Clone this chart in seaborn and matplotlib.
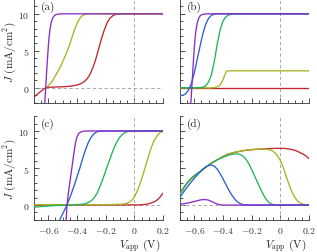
import matplotlib
matplotlib.use("Agg")
import matplotlib.pyplot as plt
import seaborn as sns
from matplotlib.ticker import MultipleLocator

# colores de las curvas
c_red = "#c0272d"
c_yg = "#a8b41e"
c_green = "#20b45a"
c_blue = "#2a5fce"
c_purple = "#8a2cc6"

# ----- panel (a) -----
a_red_v = [-0.70, -0.68, -0.66, -0.64, -0.62, -0.60, -0.55, -0.50, -0.45, -0.40, -0.37, -0.35, -0.33,
           -0.31, -0.29, -0.27, -0.25, -0.23, -0.21, -0.19, -0.17, -0.15, -0.13, -0.11, 0.20]
a_red_j = [-1.25, -0.92, -0.6, -0.28, 0.0, 0.08, 0.12, 0.15, 0.22, 0.38, 0.6, 0.85, 1.2,
           1.8, 2.7, 3.8, 5.2, 6.6, 7.8, 8.8, 9.4, 9.75, 9.92, 9.98, 10.0]
a_yg_v = [-0.62, -0.60, -0.58, -0.56, -0.54, -0.52, -0.50, -0.48, -0.46, -0.44, -0.42, -0.40, -0.38,
          -0.36, -0.34, -0.32, 0.20]
a_yg_j = [0.0, 0.3, 0.7, 1.3, 2.0, 2.7, 3.5, 4.4, 5.4, 6.5, 7.7, 8.7, 9.4, 9.8, 9.95, 10.0, 10.0]
a_purple_v = [-0.63, -0.625, -0.62, -0.615, -0.61, -0.605, -0.60, -0.595, -0.59, -0.58, -0.57, -0.56,
              -0.55, -0.54, -0.52, -0.50, 0.20]
a_purple_j = [-4.0, -2.2, -0.6, 1.0, 2.6, 4.1, 5.5, 6.7, 7.6, 8.8, 9.4, 9.7, 9.85, 9.93, 9.98, 10.0, 10.0]

# ----- panel (b) -----
b_red_v = [-0.70, 0.20]
b_red_j = [0.0, 0.0]
b_yg_v = [-0.70, -0.48, -0.46, -0.44, -0.43, -0.42, -0.41, -0.40, -0.39, -0.38, -0.375, -0.37, 0.20]
b_yg_j = [0.0, 0.0, 0.05, 0.15, 0.25, 0.4, 0.7, 1.1, 1.6, 2.05, 2.25, 2.3, 2.3]
b_green_v = [-0.70, -0.56, -0.54, -0.52, -0.50, -0.48, -0.46, -0.44, -0.42, -0.40, -0.38, -0.36,
             -0.34, -0.32, 0.20]
b_green_j = [0.0, 0.02, 0.1, 0.3, 0.8, 1.8, 3.6, 5.9, 7.8, 9.0, 9.6, 9.85, 9.95, 10.0, 10.0]
b_blue_v = [-0.70, -0.68, -0.66, -0.64, -0.62, -0.60, -0.58, -0.56, -0.54, -0.52, -0.50, -0.48,
            -0.46, -0.44, 0.20]
b_blue_j = [-1.05, -1.0, -0.8, -0.3, 0.6, 2.0, 3.8, 5.6, 7.3, 8.6, 9.4, 9.8, 9.95, 10.0, 10.0]
b_purple_v = [-0.63, -0.625, -0.62, -0.615, -0.61, -0.605, -0.60, -0.595, -0.59, -0.58, -0.57, -0.56,
              -0.55, -0.54, -0.52, -0.50, 0.20]
b_purple_j = [-4.0, -2.4, -0.9, 0.7, 2.3, 3.9, 5.3, 6.5, 7.5, 8.7, 9.35, 9.7, 9.85, 9.93, 9.98, 10.0, 10.0]

# ----- panel (c) -----
c_red_v = [-0.70, 0.04, 0.08, 0.10, 0.12, 0.14, 0.16, 0.18, 0.20]
c_red_j = [0.0, 0.02, 0.1, 0.18, 0.3, 0.45, 0.7, 1.1, 1.65]
c_yg_v = [-0.70, -0.20, -0.10, -0.08, -0.06, -0.04, -0.02, 0.0, 0.02, 0.04, 0.06, 0.08, 0.10, 0.12,
          0.14, 0.16, 0.18, 0.20]
c_yg_j = [0.05, 0.06, 0.1, 0.12, 0.2, 0.35, 0.6, 1.1, 1.9, 2.9, 4.1, 5.4, 6.7, 7.9, 8.8, 9.4, 9.8, 9.95]
c_green_v = [-0.70, -0.65, -0.60, -0.55, -0.50, -0.45, -0.40, -0.36, -0.34, -0.32, -0.30, -0.28,
             -0.26, -0.24, -0.22, -0.20, -0.18, -0.16, -0.14, -0.12, -0.10, -0.08, -0.06, -0.04,
             -0.02, 0.20]
c_green_j = [-0.3, -0.2, -0.12, -0.06, -0.02, 0.0, 0.05, 0.12, 0.2, 0.35, 0.6, 1.0, 1.6, 2.5, 3.5,
             4.6, 5.7, 6.8, 7.8, 8.6, 9.2, 9.6, 9.85, 9.95, 10.0, 10.0]
c_blue_v = [-0.54, -0.52, -0.50, -0.48, -0.46, -0.44, -0.42, -0.40, -0.38, -0.36, -0.34, -0.32,
            -0.30, -0.28, -0.26, -0.24, -0.22, 0.20]
c_blue_j = [-2.8, -2.0, -1.2, -0.4, 0.5, 1.5, 2.6, 3.8, 5.0, 6.3, 7.5, 8.5, 9.2, 9.65, 9.9, 9.97,
            10.0, 10.0]
c_purple_v = [-0.48, -0.475, -0.47, -0.465, -0.46, -0.45, -0.44, -0.43, -0.42, -0.41, -0.40, -0.39,
              -0.38, -0.36, -0.34, 0.20]
c_purple_j = [-3.5, -1.8, -0.2, 0.8, 1.6, 3.0, 4.4, 5.8, 7.2, 8.4, 9.2, 9.6, 9.8, 9.95, 10.0, 10.0]

# ----- panel (d) -----
d_red_v = [-0.70, -0.68, -0.66, -0.64, -0.62, -0.60, -0.56, -0.52, -0.48, -0.44, -0.40, -0.36, -0.32,
           -0.28, -0.24, -0.20, -0.16, -0.12, -0.08, -0.04, 0.0, 0.04, 0.08, 0.10, 0.12, 0.14, 0.16,
           0.18, 0.20]
d_red_j = [1.5, 2.15, 2.7, 3.2, 3.6, 3.95, 4.5, 5.1, 5.65, 6.1, 6.55, 6.9, 7.1, 7.27, 7.4, 7.48, 7.54,
           7.58, 7.62, 7.65, 7.66, 7.63, 7.5, 7.4, 7.25, 7.05, 6.85, 6.6, 6.25]
d_yg_v = [-0.70, -0.68, -0.66, -0.64, -0.62, -0.60, -0.56, -0.52, -0.48, -0.44, -0.40, -0.36, -0.32,
          -0.28, -0.24, -0.20, -0.16, -0.12, -0.10, -0.08, -0.06, -0.04, -0.02, 0.0, 0.02, 0.04,
          0.06, 0.08, 0.10, 0.12, 0.14, 0.16, 0.18, 0.20]
d_yg_j = [1.5, 2.15, 2.7, 3.2, 3.6, 3.95, 4.5, 5.1, 5.65, 6.1, 6.55, 6.9, 7.1, 7.27, 7.4, 7.48, 7.54,
          7.57, 7.55, 7.5, 7.35, 7.1, 6.65, 6.0, 5.1, 3.9, 2.8, 1.8, 1.05, 0.55, 0.25, 0.1, 0.03, 0.0]
d_green_v = [-0.70, -0.68, -0.66, -0.64, -0.62, -0.60, -0.58, -0.56, -0.54, -0.52, -0.50, -0.48,
             -0.46, -0.44, -0.42, -0.40, -0.38, -0.36, -0.34, -0.32, -0.30, -0.28, -0.26, -0.24,
             -0.22, -0.20, -0.18, -0.16, -0.14, -0.12, -0.10, -0.08, -0.06, -0.04, -0.02, 0.20]
d_green_j = [1.5, 2.15, 2.7, 3.2, 3.6, 3.95, 4.25, 4.5, 4.8, 5.1, 5.4, 5.65, 5.9, 6.1, 6.3, 6.45, 6.6,
             6.75, 6.85, 6.9, 6.9, 6.82, 6.6, 6.2, 5.6, 4.8, 3.95, 3.1, 2.25, 1.45, 0.8, 0.35, 0.12,
             0.03, 0.0, 0.0]
d_blue_v = [-0.70, -0.68, -0.66, -0.64, -0.62, -0.60, -0.58, -0.56, -0.54, -0.52, -0.50, -0.48,
            -0.46, -0.44, -0.42, -0.40, -0.38, -0.36, -0.34, -0.32, -0.30, -0.28, -0.26, -0.24,
            -0.22, 0.20]
d_blue_j = [1.05, 1.6, 2.15, 2.65, 3.15, 3.6, 4.05, 4.45, 4.85, 5.15, 5.35, 5.4, 5.25, 4.85, 4.25,
            3.55, 2.8, 2.05, 1.4, 0.85, 0.45, 0.2, 0.07, 0.02, 0.0, 0.0]
d_purple_v = [-0.70, -0.66, -0.62, -0.58, -0.56, -0.54, -0.52, -0.50, -0.48, -0.46, -0.44, -0.42,
              -0.40, 0.20]
d_purple_j = [0.12, 0.22, 0.38, 0.58, 0.68, 0.74, 0.74, 0.66, 0.5, 0.3, 0.13, 0.04, 0.0, 0.0]

# etiquetas de ejes
x_ticks = [-0.6, -0.4, -0.2, 0.0, 0.2]
x_tick_labels = ["$-0.6$", "$-0.4$", "$-0.2$", "$0$", "$0.2$"]
y_ticks = [0, 5, 10]
y_tick_labels = ["$0$", "$5$", "$10$"]
panel_labels = ["(a)", "(b)", "(c)", "(d)"]

sns.set_style("ticks")
plt.rcParams["font.family"] = "serif"
plt.rcParams["font.serif"] = ["cmr10", "DejaVu Serif"]
plt.rcParams["mathtext.fontset"] = "cm"
plt.rcParams["axes.formatter.use_mathtext"] = True

paneles = [
    [(a_red_v, a_red_j, c_red), (a_yg_v, a_yg_j, c_yg), (a_purple_v, a_purple_j, c_purple)],
    [(b_red_v, b_red_j, c_red), (b_yg_v, b_yg_j, c_yg), (b_green_v, b_green_j, c_green),
     (b_blue_v, b_blue_j, c_blue), (b_purple_v, b_purple_j, c_purple)],
    [(c_red_v, c_red_j, c_red), (c_yg_v, c_yg_j, c_yg), (c_green_v, c_green_j, c_green),
     (c_blue_v, c_blue_j, c_blue), (c_purple_v, c_purple_j, c_purple)],
    [(d_red_v, d_red_j, c_red), (d_yg_v, d_yg_j, c_yg), (d_green_v, d_green_j, c_green),
     (d_blue_v, d_blue_j, c_blue), (d_purple_v, d_purple_j, c_purple)],
]

fig, axes = plt.subplots(2, 2, figsize=(3.17, 2.53), dpi=100, sharex=True, sharey=True)
fig.subplots_adjust(left=0.107, right=0.975, bottom=0.127, top=1.0, wspace=0.13, hspace=0.13)

for i, ax in enumerate(axes.flat):
    ax.axvline(0, color="#9a9a9a", ls=(0, (4, 3)), lw=0.6, zorder=1)
    ax.axhline(0, color="#9a9a9a", ls=(0, (4, 3)), lw=0.6, zorder=1)
    for v, j, col in paneles[i]:
        sns.lineplot(x=v, y=j, color=col, lw=0.95, ax=ax, errorbar=None, zorder=3)
    ax.set_xlim(-0.7, 0.2)
    ax.set_ylim(-2, 12)
    ax.set_xticks(x_ticks)
    ax.set_yticks(y_ticks)
    ax.xaxis.set_minor_locator(MultipleLocator(0.05))
    ax.yaxis.set_minor_locator(MultipleLocator(1))
    ax.tick_params(which="both", direction="in", labelsize=7, colors="#333333", width=0.6)
    ax.tick_params(which="major", length=3.5)
    ax.tick_params(which="minor", length=2)
    for s in ["left", "bottom"]:
        ax.spines[s].set_linewidth(0.6)
        ax.spines[s].set_color("#333333")
    sns.despine(ax=ax)
    ax.text(0.055, 0.985, panel_labels[i], transform=ax.transAxes, ha="left", va="top", fontsize=8)
    ax.set_xlabel("")
    ax.set_ylabel("")

for ax in axes[1]:
    ax.set_xticklabels(x_tick_labels)
    ax.set_xlabel("$V_\\mathrm{app}$ (V)", fontsize=8, va="center")
    ax.xaxis.set_label_coords(0.82, -0.235)
for ax in axes[:, 0]:
    ax.set_yticklabels(y_tick_labels)
    ax.set_ylabel("$J$ (mA/cm$^2$)", fontsize=8, va="center")
    ax.yaxis.set_label_coords(-0.19, 0.5)

plt.savefig("out.png", dpi=100)
